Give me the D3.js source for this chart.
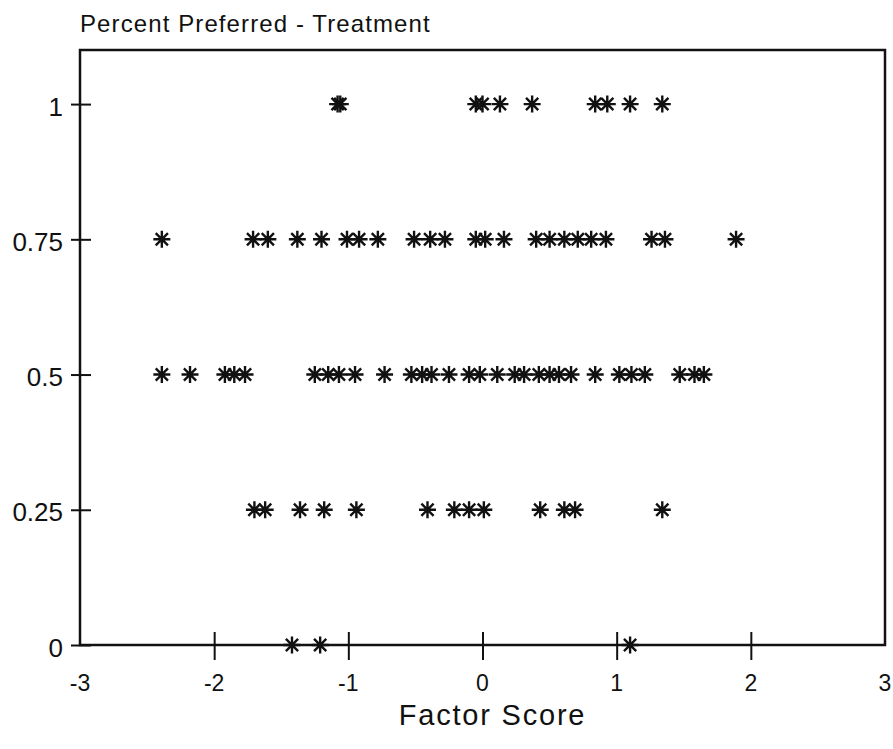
<!DOCTYPE html>
<html>
<head>
<meta charset="utf-8">
<script src="https://cdn.jsdelivr.net/npm/d3@7"></script>
<style>
  body { margin: 0; background: #fff; overflow: hidden; }
  svg { display: block; }
  text { font-family: "Liberation Sans", Arial, sans-serif; fill: #111; }
</style>
</head>
<body>
<div id="chart"></div>
<script>
// Factor scores for each "percent preferred" level
const row100 = [-1.08, -1.06, -0.05, 0.0, 0.13, 0.37, 0.84, 0.93, 1.1, 1.34];
const row075 = [-2.39, -1.71, -1.6, -1.38, -1.2, -1.01, -0.92, -0.78, -0.51, -0.39, -0.28,
                -0.05, 0.02, 0.16, 0.4, 0.5, 0.61, 0.71, 0.81, 0.92, 1.26, 1.36, 1.89];
const row050 = [-2.39, -2.18, -1.92, -1.85, -1.77, -1.25, -1.15, -1.07, -0.95, -0.73,
                -0.53, -0.45, -0.38, -0.25, -0.1, -0.02, 0.11, 0.24, 0.31, 0.42, 0.5,
                0.57, 0.66, 0.84, 1.02, 1.11, 1.21, 1.47, 1.58, 1.65];
const row025 = [-1.7, -1.62, -1.36, -1.18, -0.94, -0.41, -0.21, -0.1, 0.01, 0.43, 0.61, 0.69, 1.34];
const row000 = [-1.42, -1.21, 1.1];

const levels = [1, 0.75, 0.5, 0.25, 0];
const rows = [row100, row075, row050, row025, row000];

const xTicks = [-2, -1, 0, 1, 2];
const xLabels = [-3, -2, -1, 0, 1, 2, 3];
const yTicks = [0, 0.25, 0.5, 0.75, 1];

const points = [];
rows.forEach((r, i) => r.forEach(x => points.push({x: x, y: levels[i]})));

/*******************************/
/*    Declare the constants    */
/*******************************/
const width = 893;
const height = 749;
const margin = {top: 50, right: 8, bottom: 104, left: 80};
const innerWidth = width - margin.left - margin.right;
const innerHeight = height - margin.top - margin.bottom;

const svg = d3.select("#chart")
  .append("svg")
    .attr("width", width)
    .attr("height", height);

/****************************/
/*    Declare the scales    */
/****************************/
// scales map straight to page pixels
const xScale = d3.scaleLinear()
  .domain([-3, 3])
  .range([margin.left, margin.left + innerWidth]);

const yScale = d3.scaleLinear()
  .domain([0, 1.1])
  .range([margin.top + innerHeight, margin.top]);

/**************************/
/*      Frame & axes      */
/**************************/
svg
  .append("rect")
    .attr("x", margin.left)
    .attr("y", margin.top)
    .attr("width", innerWidth)
    .attr("height", innerHeight)
    .attr("fill", "none")
    .attr("stroke", "#111")
    .attr("stroke-width", 2.5);

const bottomAxis = d3.axisBottom(xScale)
  .tickValues(xTicks)
  .tickSizeInner(28)
  .tickSizeOuter(0);
const xAxisG = svg
  .append("g")
    .attr("transform", `translate(0, ${margin.top + innerHeight - 13})`)
    .call(bottomAxis);
xAxisG.select(".domain").remove();
xAxisG.selectAll(".tick text").remove();
xAxisG.selectAll(".tick line").attr("stroke", "#111").attr("stroke-width", 2);

svg
  .selectAll(".x-label")
  .data(xLabels)
  .join("text")
    .attr("class", "x-label")
    .attr("x", d => xScale(d))
    .attr("y", 691)
    .attr("text-anchor", "middle")
    .attr("font-size", 23)
    .text(d => d);

const leftAxis = d3.axisLeft(yScale)
  .tickValues(yTicks)
  .tickSizeInner(20)
  .tickSizeOuter(0);
const yAxisG = svg
  .append("g")
    .attr("transform", `translate(${margin.left + 11}, 0)`)
    .call(leftAxis);
yAxisG.select(".domain").remove();
yAxisG.selectAll(".tick text").remove();
yAxisG.selectAll(".tick line").attr("stroke", "#111").attr("stroke-width", 2);

svg
  .selectAll(".y-label")
  .data(yTicks)
  .join("text")
    .attr("class", "y-label")
    .attr("x", margin.left - 17)
    .attr("y", d => yScale(d))
    .attr("dy", "0.45em")
    .attr("text-anchor", "end")
    .attr("font-size", 26)
    .text(d => d);

svg
  .append("text")
    .text("Percent Preferred - Treatment")
    .attr("x", margin.left)
    .attr("y", 32)
    .attr("font-size", 24)
    .attr("letter-spacing", 1.1);

svg
  .append("text")
    .text("Factor Score")
    .attr("x", xScale(0) + 10)
    .attr("y", 725)
    .attr("text-anchor", "middle")
    .attr("font-size", 29)
    .attr("letter-spacing", 1.8);

/******************************/
/*      Asterisk markers      */
/******************************/
const r = 8.5;
const d2 = r * 0.72;
const starPath = `M0,${-r}V${r}M${-r},0H${r}M${-d2},${-d2}L${d2},${d2}M${-d2},${d2}L${d2},${-d2}`;

svg
  .selectAll(".star")
  .data(points)
  .join("path")
    .attr("class", "star")
    .attr("transform", d => `translate(${xScale(d.x)}, ${yScale(d.y)})`)
    .attr("d", starPath)
    .attr("fill", "none")
    .attr("stroke", "#111")
    .attr("stroke-width", 2.4);
</script>
</body>
</html>
